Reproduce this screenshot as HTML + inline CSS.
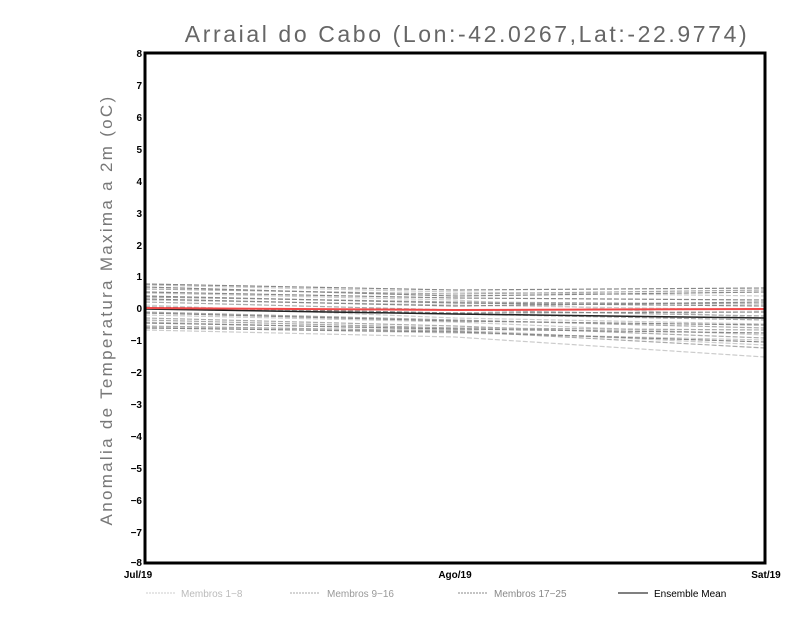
<!DOCTYPE html>
<html><head><style>body{margin:0;background:#fff}svg{display:block}</style></head><body>
<svg width="800" height="618" xmlns="http://www.w3.org/2000/svg" font-family="Liberation Sans, sans-serif">
<rect width="800" height="618" fill="#fff"/>
<text x="467" y="42" font-size="23" fill="#666" text-anchor="middle" letter-spacing="2.6">Arraial do Cabo (Lon:-42.0267,Lat:-22.9774)</text>
<text transform="translate(112,310) rotate(-90)" font-size="17" fill="#777" text-anchor="middle" letter-spacing="2.3">Anomalia de Temperatura Maxima a 2m (oC)</text>
<g font-size="10" font-weight="bold" fill="#000" text-anchor="end">
<text x="142" y="57">8</text><text x="142" y="89">7</text><text x="142" y="121">6</text><text x="142" y="153">5</text><text x="142" y="185">4</text><text x="142" y="217">3</text><text x="142" y="249">2</text><text x="142" y="280">1</text><text x="142" y="312">0</text><text x="142" y="344">−1</text><text x="142" y="376">−2</text><text x="142" y="408">−3</text><text x="142" y="440">−4</text><text x="142" y="472">−5</text><text x="142" y="504">−6</text><text x="142" y="536">−7</text><text x="142" y="566">−8</text>
</g>
<g font-size="10" font-weight="bold" fill="#000" text-anchor="middle">
<text x="138" y="578">Jul/19</text><text x="455" y="578">Ago/19</text><text x="766" y="578">Sat/19</text>
</g>
<g fill="none" stroke-width="1.2" stroke-dasharray="5,2">
<g stroke="#ccc">
<polyline points="145,285 455,292 765,296"/><polyline points="145,300 455,305 765,310"/><polyline points="145,315 455,322 765,335"/><polyline points="145,322 455,330 765,345"/><polyline points="145,330 455,337 765,357"/><polyline points="145,293 455,300 765,318"/><polyline points="145,305 455,318 765,324"/><polyline points="145,327 455,333 765,340"/>
</g>
<g stroke="#aaa">
<polyline points="145,289 455,294 765,290"/><polyline points="145,297 455,302 765,304"/><polyline points="145,312 455,320 765,328"/><polyline points="145,318 455,326 765,338"/><polyline points="145,326 455,331 765,348"/><polyline points="145,302 455,310 765,316"/><polyline points="145,309 455,314 765,320"/><polyline points="145,320 455,328 765,330"/>
</g>
<g stroke="#888">
<polyline points="145,284 455,290 765,288"/><polyline points="145,287 455,296 765,292"/><polyline points="145,292 455,298 765,300"/><polyline points="145,299 455,306 765,302"/><polyline points="145,307 455,313 765,312"/><polyline points="145,313 455,321 765,325"/><polyline points="145,323 455,329 765,333"/><polyline points="145,328 455,332 765,342"/><polyline points="145,296 455,303 765,306"/>
</g>
</g>
<polyline points="145,309 455,314 765,318" fill="none" stroke="#222" stroke-width="1.5"/>
<polyline points="145,308 455,310 765,309" fill="none" stroke="#f04848" stroke-width="2"/>
<rect x="145" y="53" width="620" height="510" fill="none" stroke="#000" stroke-width="3"/>
<g font-size="10" fill="#aaa">
<line x1="146" y1="593" x2="176" y2="593" stroke="#ccc" stroke-dasharray="2,1"/><text x="181" y="597" fill="#bbb">Membros 1−8</text>
<line x1="290" y1="593" x2="320" y2="593" stroke="#aaa" stroke-dasharray="2,1"/><text x="327" y="597" fill="#999">Membros 9−16</text>
<line x1="458" y1="593" x2="488" y2="593" stroke="#888" stroke-dasharray="2,1"/><text x="494" y="597" fill="#888">Membros 17−25</text>
<line x1="618" y1="593" x2="648" y2="593" stroke="#000"/><text x="654" y="597" fill="#000">Ensemble Mean</text>
</g>
</svg>
</body></html>
